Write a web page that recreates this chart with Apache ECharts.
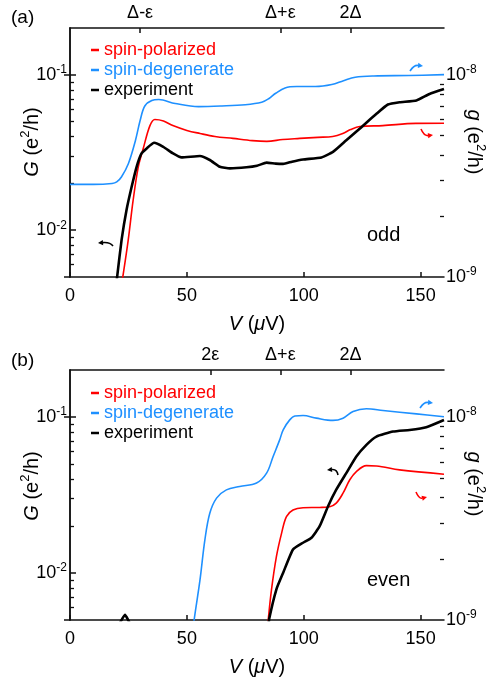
<!DOCTYPE html>
<html>
<head>
<meta charset="utf-8">
<script src="https://cdn.jsdelivr.net/npm/echarts@6/dist/echarts.min.js"></script>
<style>
  html, body { margin: 0; padding: 0; background: #fff; }
  #main { width: 488px; height: 684px; }
</style>
</head>
<body>
<div id="main"></div>
<script>
// ---- data (V in µV, G and g in e^2/h) ----
const vTicks = [0, 50, 100, 150];
const topTicksA = [30, 90, 120];
const topLabelsA = ['Δ-ε', 'Δ+ε', '2Δ'];
const topTicksB = [60, 90, 120];
const topLabelsB = ['2ε', 'Δ+ε', '2Δ'];
const gMajor = [0.01, 0.1];
const gMinor = [0.006, 0.007, 0.008, 0.009, 0.02, 0.03, 0.04, 0.05, 0.06, 0.07, 0.08, 0.09];
const rMajor = [1e-9, 1e-8];
const rMinor = [2e-9, 3e-9, 4e-9, 5e-9, 6e-9, 7e-9, 8e-9, 9e-9];

// panel (a) odd
const polA = [[21.5,8.5e-10],[22.8,1.04e-9],[24.9,1.52e-9],[27,2.39e-9],[29.2,3.49e-9],[31.3,4.3e-9],[34.2,5.6e-9],[36.3,6.0e-9],[40,5.9e-9],[44,5.6e-9],[50,5.3e-9],[55.6,5.12e-9],[62,4.95e-9],[69.7,4.84e-9],[78,4.72e-9],[84.2,4.68e-9],[91,4.78e-9],[98.3,4.84e-9],[106,4.9e-9],[112.4,4.95e-9],[116.7,5.12e-9],[120,5.35e-9],[124,5.54e-9],[133.8,5.6e-9],[148,5.74e-9],[160,5.75e-9]];
const degA = [[0,2.87e-9],[10,2.87e-9],[18,2.9e-9],[20,2.95e-9],[22,3.12e-9],[25,3.64e-9],[28,4.73e-9],[30,5.93e-9],[32,7.0e-9],[35,7.45e-9],[38,7.53e-9],[45,7.2e-9],[55,6.95e-9],[65,7.0e-9],[75,7.1e-9],[82,7.3e-9],[85,7.6e-9],[88,8.09e-9],[92,8.6e-9],[97,8.73e-9],[105,8.73e-9],[112,8.93e-9],[117,9.33e-9],[122,9.7e-9],[130,9.85e-9],[145,9.9e-9],[160,1.0e-8]];
const expA = [[19.5,0.0042],[20.2,0.00507],[22.1,0.00873],[24.2,0.01355],[26.4,0.0191],[28.5,0.0256],[30.6,0.0312],[32.8,0.0336],[36,0.0365],[39.9,0.0344],[44.1,0.0312],[47.7,0.0294],[55.6,0.030],[59.8,0.0283],[64.1,0.0256],[68.4,0.025],[75.5,0.0254],[80,0.026],[84.1,0.0272],[88,0.0268],[91.2,0.0267],[95,0.0276],[99.7,0.0285],[107.6,0.0294],[112.5,0.0319],[118.2,0.0379],[123.9,0.045],[131.1,0.0561],[136,0.0644],[141,0.0666],[148.2,0.0683],[153.8,0.0753],[160,0.081]];

// panel (b) even
const polB = [[84.3,8.5e-10],[84.8,1e-9],[86.2,1.41e-9],[88.3,2.05e-9],[90.5,2.67e-9],[92.6,3.23e-9],[95.4,3.48e-9],[99.7,3.57e-9],[106.8,3.58e-9],[111.1,3.61e-9],[113.9,3.76e-9],[116.8,4.21e-9],[119.7,4.9e-9],[122.5,5.38e-9],[126.8,5.75e-9],[131.1,5.73e-9],[141,5.48e-9],[160,5.22e-9]];
const degB = [[52.5,8.5e-10],[53.1,1e-9],[55.6,1.57e-9],[57.7,2.48e-9],[59.8,3.35e-9],[62.7,3.98e-9],[66.9,4.37e-9],[72.6,4.54e-9],[79.8,4.72e-9],[84.1,5.28e-9],[86.9,6.38e-9],[89.7,7.7e-9],[91.2,8.63e-9],[94,9.66e-9],[96.2,1.01e-8],[99.7,1.015e-8],[105.4,9.85e-9],[112.5,9.6e-9],[116.8,9.85e-9],[121.1,1.062e-8],[126.8,1.095e-8],[133.9,1.074e-8],[148.2,1.034e-8],[160,1.0e-8]];
const expB = [[18,0.0042],[21,0.0047],[23.5,0.0054],[26,0.0046],[30,0.003],[80,0.003],[84.5,0.0042],[85.2,0.00507],[88.3,0.00787],[91.2,0.01005],[95.4,0.01416],[99.7,0.01563],[103.3,0.01683],[106.8,0.01995],[110.4,0.0268],[113.9,0.0342],[118.2,0.0437],[122.5,0.0558],[126.8,0.0663],[131.1,0.0749],[138.2,0.0806],[145.3,0.0826],[152.4,0.086],[160,0.0957]];

const FONT = 'Liberation Sans, Arial, sans-serif';
const RED = '#ff0000', BLUE = '#1e90ff', BLACK = '#000';

const sup = {
  b: { fontSize: 18, lineHeight: 22, fontFamily: FONT, color: '#000' },
  s: { fontSize: 12, lineHeight: 12, verticalAlign: 'top', fontFamily: FONT, color: '#000' }
};
const nameRich = {
  i: { fontSize: 20, lineHeight: 26, fontStyle: 'italic', fontFamily: FONT, color: '#000' },
  n: { fontSize: 20, lineHeight: 26, fontFamily: FONT, color: '#000' },
  s: { fontSize: 13, lineHeight: 13, verticalAlign: 'top', fontFamily: FONT, color: '#000' }
};
function expLabel(v) {
  return '{b|10}{s|' + Math.round(Math.log10(v)) + '}';
}
const axisLine = { show: true, lineStyle: { color: '#111', width: 1.5 } };

function xAxes(grid, topVals, topLabs) {
  return [
    { type: 'value', gridIndex: grid, min: 0, max: 160, position: 'bottom',
      name: '{i|V}{n| (}{i|μ}{n|V)}', nameLocation: 'middle', nameGap: 34,
      nameTextStyle: { rich: nameRich },
      axisLine: axisLine, splitLine: { show: false },
      axisTick: { inside: true, length: 5, customValues: vTicks, lineStyle: { width: 1.5, color: '#111' } },
      axisLabel: { customValues: vTicks, margin: 10, fontSize: 18, fontFamily: FONT, color: '#000' } },
    { type: 'value', gridIndex: grid, min: 0, max: 160, position: 'top',
      axisLine: axisLine, splitLine: { show: false },
      axisTick: { inside: true, length: 5, customValues: topVals, lineStyle: { width: 1.5, color: '#111' } },
      axisLabel: { customValues: topVals, margin: 6, fontSize: 18, fontFamily: FONT, color: '#000',
        formatter: v => topLabs[topVals.indexOf(v)] } }
  ];
}

function yAxes(grid) {
  return [
    { type: 'log', gridIndex: grid, min: 0.005, max: 0.2, position: 'left',
      axisLine: axisLine, splitLine: { show: false },
      axisTick: { inside: true, length: 6, customValues: gMajor, lineStyle: { width: 1.5, color: '#111' } },
      axisLabel: { customValues: gMajor, margin: 3, formatter: expLabel, rich: sup } },
    { type: 'log', gridIndex: grid, min: 1e-9, max: 1.7e-8, position: 'right',
      axisLine: axisLine, splitLine: { show: false },
      axisTick: { inside: true, length: 6, customValues: rMajor, lineStyle: { width: 1.5, color: '#111' } },
      axisLabel: { customValues: rMajor, margin: 2, formatter: expLabel, rich: sup } },
    { type: 'log', gridIndex: grid, min: 0.005, max: 0.2, position: 'left',
      axisLine: { show: false }, splitLine: { show: false }, axisLabel: { show: false },
      axisTick: { inside: true, length: 4, customValues: gMinor, lineStyle: { width: 1.3, color: '#111' } } },
    { type: 'log', gridIndex: grid, min: 1e-9, max: 1.7e-8, position: 'right',
      axisLine: { show: false }, splitLine: { show: false }, axisLabel: { show: false },
      axisTick: { inside: true, length: 4, customValues: rMinor, lineStyle: { width: 1.3, color: '#111' } } }
  ];
}

function line(name, data, xi, yi, color, width) {
  return { name: name, type: 'line', data: data, xAxisIndex: xi, yAxisIndex: yi,
    showSymbol: false, symbol: 'none', smooth: width > 2 ? 0.15 : 0.35,
    lineStyle: { color: color, width: width }, itemStyle: { color: color }, clip: true, silent: true };
}

function legend(top) {
  return { left: 86, top: top, orient: 'vertical', itemGap: 0, itemWidth: 8, itemHeight: 2.5,
    icon: 'rect', selectedMode: false,
    textStyle: { fontSize: 18, fontFamily: FONT, lineHeight: 20, padding: [0, 0, 0, 0] },
    data: [
      { name: 'spin-polarized', textStyle: { color: RED } },
      { name: 'spin-degenerate', textStyle: { color: BLUE } },
      { name: 'experiment', textStyle: { color: BLACK } }
    ] };
}

function arrow(x1, y1, cx, cy, x2, y2, color) {
  const ang = Math.atan2(y2 - cy, x2 - cx);
  const L = 5, W = 2.6;
  const bx = x2 - L * Math.cos(ang), by = y2 - L * Math.sin(ang);
  const px = -Math.sin(ang) * W, py = Math.cos(ang) * W;
  return { type: 'group', silent: true, children: [
    { type: 'bezierCurve', shape: { x1: x1, y1: y1, cpx1: cx, cpy1: cy, x2: bx, y2: by },
      style: { stroke: color, lineWidth: 1.6, fill: null } },
    { type: 'polygon', shape: { points: [[x2, y2], [bx + px, by + py], [bx - px, by - py]] },
      style: { fill: color } }
  ] };
}

function txt(x, y, text, size) {
  return { type: 'text', left: x, top: y, silent: true,
    style: { text: text, fontSize: size, fontFamily: FONT, fill: '#000' } };
}

function vname(x, y, letter, rot) {
  return { type: 'text', x: x, y: y, rotation: rot, silent: true,
    style: { text: '{i|' + letter + '}{n| (e}{s|2}{n|/h)}', rich: nameRich,
      align: 'center', verticalAlign: 'middle' } };
}

const chart = echarts.init(document.getElementById('main'), null, { renderer: 'canvas' });
chart.setOption({
  animation: false,
  backgroundColor: '#fff',
  grid: [
    { left: 70, top: 28, width: 374, height: 249, containLabel: false, outerBoundsMode: 'none' },
    { left: 70, top: 370, width: 374, height: 250, containLabel: false, outerBoundsMode: 'none' }
  ],
  xAxis: xAxes(0, topTicksA, topLabelsA).concat(xAxes(1, topTicksB, topLabelsB)),
  yAxis: yAxes(0).concat(yAxes(1)),
  legend: [legend(35), legend(378)],
  series: [
    line('spin-degenerate', degA, 0, 1, BLUE, 1.6),
    line('spin-polarized', polA, 0, 1, RED, 1.6),
    line('experiment', expA, 0, 0, BLACK, 2.6),
    line('spin-degenerate', degB, 2, 5, BLUE, 1.6),
    line('spin-polarized', polB, 2, 5, RED, 1.6),
    line('experiment', expB, 2, 4, BLACK, 2.6)
  ],
  graphic: [
    txt(11, 8, '(a)', 19),
    txt(11, 351, '(b)', 19),
    txt(367, 225, 'odd', 20),
    txt(367, 570, 'even', 20),
    vname(32, 142, 'G', Math.PI / 2),
    vname(32, 486, 'G', Math.PI / 2),
    vname(474, 142, 'g', -Math.PI / 2),
    vname(474, 484, 'g', -Math.PI / 2),
    arrow(410, 71, 414, 65, 423, 66, BLUE),
    arrow(421, 129, 424, 136, 433, 135, RED),
    arrow(113, 246, 110, 242, 98, 243, BLACK),
    arrow(420, 408, 424, 402, 433, 403, BLUE),
    arrow(416, 492, 419, 499, 427, 497, RED),
    arrow(338, 475, 337, 469, 327, 470, BLACK)
  ]
});
</script>
</body>
</html>
